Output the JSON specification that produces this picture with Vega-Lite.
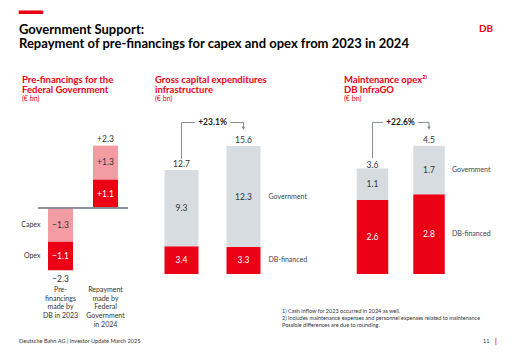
{
  "$schema": "https://vega.github.io/schema/vega-lite/v6.json",
  "background": "white",
  "padding": {"left": 19, "top": 3, "right": 5, "bottom": 2},
  "config": {"view": {"stroke": null}, "font": "Lato", "text": {"font": "Lato"}},
  "title": {
    "text": "━━",
    "font": "DejaVu Sans",
    "fontSize": 20,
    "fontWeight": "normal",
    "color": "#EC0016",
    "anchor": "start",
    "frame": "bounds",
    "offset": -27,
    "subtitle": ["Government Support:", "Repayment of pre-financings for capex and opex from 2023 in 2024"],
    "subtitleFont": "Lato",
    "subtitleFontSize": 13,
    "subtitleFontWeight": "bold",
    "subtitleColor": "#000000",
    "subtitleLineHeight": 14,
    "subtitlePadding": 1
  },
  "bounds": "flush",
  "columns": 4,
  "spacing": {"row": 28, "column": 22},
  "resolve": {"scale": {"color": "independent"}},
  "concat": [
    {
      "width": 90,
      "height": 157,
      "title": {"text": ["Pre-financings for the", "Federal Government"], "subtitle": "(€ bn)", "anchor": "start", "frame": "group", "dx": -16, "offset": 15, "fontSize": 9.5, "fontWeight": "bold", "color": "#EC0016", "lineHeight": 9.5, "subtitleFontSize": 7, "subtitleColor": "#EC0016", "subtitlePadding": 1},
      "data": {"values": [
        {"category": "Pre-\nfinancings\nmade by\nDB in 2023", "type": "Capex", "value": -1.3},
        {"category": "Pre-\nfinancings\nmade by\nDB in 2023", "type": "Opex", "value": -1.1},
        {"category": "Repayment\nmade by\nFederal\nGovernment\nin 2024", "type": "Opex", "value": 1.1},
        {"category": "Repayment\nmade by\nFederal\nGovernment\nin 2024", "type": "Capex", "value": 1.3}
      ]},
      "transform": [
        {"stack": "value", "groupby": ["category"], "sort": [{"field": "value", "order": "ascending"}], "as": ["v0", "v1"]},
        {"calculate": "(datum.v0 + datum.v1) / 2", "as": "mid"}
      ],
      "layer": [
        {
          "mark": {"type": "bar"},
          "encoding": {
            "x": {"field": "category", "type": "nominal", "scale": {"paddingInner": 0.444, "paddingOuter": 0.222}, "axis": null},
            "y": {"field": "v0", "type": "quantitative", "scale": {"domain": [-2.54, 3.5], "nice": false, "zero": false}, "axis": null},
            "y2": {"field": "v1"},
            "color": {"field": "type", "type": "nominal", "scale": {"domain": ["Opex", "Capex"], "range": ["#EC0016", "#F39CA2"]}, "legend": null}
          }
        },
        {
          "mark": {"type": "rule", "color": "#878C96", "strokeWidth": 1},
          "encoding": {"y": {"datum": 0, "type": "quantitative", "axis": null}}
        },
        {
          "mark": {"type": "text", "fontSize": 8.5},
          "encoding": {
            "x": {"field": "category", "type": "nominal", "axis": null},
            "y": {"field": "mid", "type": "quantitative", "axis": null},
            "text": {"field": "value", "format": "+.1f"},
            "color": {"condition": {"test": "datum.type === 'Opex'", "value": "white"}, "value": "#333333"}
          }
        },
        {
          "transform": [{"filter": "datum.value < 0"}],
          "mark": {"type": "text", "fontSize": 7, "align": "right", "dx": -20, "color": "#333333"},
          "encoding": {
            "x": {"field": "category", "type": "nominal", "axis": null},
            "y": {"field": "mid", "type": "quantitative", "axis": null},
            "text": {"field": "type"}
          }
        },
        {
          "data": {"values": [
            {"category": "Pre-\nfinancings\nmade by\nDB in 2023", "total": -2.3},
            {"category": "Repayment\nmade by\nFederal\nGovernment\nin 2024", "total": 2.3}
          ]},
          "layer": [
            {
              "transform": [{"filter": "datum.total < 0"}],
              "mark": {"type": "text", "fontSize": 8.5, "baseline": "middle", "dy": 11, "color": "#333333"},
              "encoding": {
                "x": {"field": "category", "type": "nominal", "axis": null},
                "y": {"field": "total", "type": "quantitative", "axis": null},
                "text": {"field": "total", "format": "+.1f"}
              }
            },
            {
              "transform": [{"filter": "datum.total > 0"}],
              "mark": {"type": "text", "fontSize": 8.5, "baseline": "middle", "dy": -9, "color": "#333333"},
              "encoding": {
                "x": {"field": "category", "type": "nominal", "axis": null},
                "y": {"field": "total", "type": "quantitative", "axis": null},
                "text": {"field": "total", "format": "+.1f"}
              }
            },
            {
              "mark": {"type": "text", "fontSize": 7, "baseline": "top", "dy": 12, "lineBreak": "\n", "lineHeight": 8.7, "color": "#333333"},
              "encoding": {
                "x": {"field": "category", "type": "nominal", "axis": null},
                "y": {"datum": -2.54, "type": "quantitative", "axis": null},
                "text": {"field": "category"}
              }
            }
          ]
        }
      ]
    },
    {
      "width": 170,
      "height": 157,
      "title": {"text": ["Gross capital expenditures", "infrastructure"], "subtitle": "(€ bn)", "anchor": "start", "frame": "group", "dx": 5, "offset": 15, "fontSize": 9.5, "fontWeight": "bold", "color": "#EC0016", "lineHeight": 9.5, "subtitleFontSize": 7, "subtitleColor": "#EC0016", "subtitlePadding": 1},
      "data": {"values": [
        {"year": "2023¹⁾", "type": "DB-financed", "value": 3.4},
        {"year": "2023¹⁾", "type": "Government", "value": 9.3},
        {"year": "2024", "type": "DB-financed", "value": 3.3},
        {"year": "2024", "type": "Government", "value": 12.3}
      ]},
      "transform": [
        {"stack": "value", "groupby": ["year"], "sort": [{"field": "type", "order": "ascending"}], "as": ["v0", "v1"]},
        {"calculate": "(datum.v0 + datum.v1) / 2", "as": "mid"}
      ],
      "layer": [
        {
          "mark": {"type": "bar"},
          "encoding": {
            "x": {"field": "year", "type": "nominal", "scale": {"range": [0, 125], "paddingInner": 0.4516, "paddingOuter": 0.234}, "axis": {"title": null, "ticks": false, "domainColor": "#878C96", "domainWidth": 1, "labelAngle": 0, "labelPadding": 4, "labelFontSize": 7, "labelColor": "#333333", "labelFont": "Lato"}},
            "y": {"field": "v0", "type": "quantitative", "scale": {"domain": [0, 19.15], "nice": false}, "axis": null},
            "y2": {"field": "v1"},
            "color": {"field": "type", "type": "nominal", "scale": {"domain": ["DB-financed", "Government"], "range": ["#EC0016", "#D7DCE1"]}, "legend": null}
          }
        },
        {
          "mark": {"type": "text", "fontSize": 8.5},
          "encoding": {
            "x": {"field": "year", "type": "nominal", "axis": null},
            "y": {"field": "mid", "type": "quantitative", "axis": null},
            "text": {"field": "value", "format": ".1f"},
            "color": {"condition": {"test": "datum.type === 'DB-financed'", "value": "white"}, "value": "#333333"}
          }
        },
        {
          "transform": [{"filter": "datum.year === '2024'"}],
          "mark": {"type": "text", "fontSize": 7, "align": "left", "dx": 25, "color": "#3C414B"},
          "encoding": {
            "x": {"field": "year", "type": "nominal", "axis": null},
            "y": {"field": "mid", "type": "quantitative", "axis": null},
            "text": {"field": "type"}
          }
        },
        {
          "data": {"values": [{"year": "2023¹⁾", "total": 12.7}, {"year": "2024", "total": 15.6}]},
          "mark": {"type": "text", "fontSize": 8.5, "dy": -3, "baseline": "alphabetic", "color": "#333333"},
          "encoding": {
            "x": {"field": "year", "type": "nominal", "axis": null},
            "y": {"field": "total", "type": "quantitative", "axis": null},
            "text": {"field": "total", "format": ".1f"}
          }
        },
        {
          "data": {"values": [{"change": "+23.1%"}]},
          "layer": [
            {"mark": {"type": "rule", "color": "#878C96", "strokeWidth": 1}, "encoding": {"x": {"datum": "2023¹⁾", "type": "nominal", "axis": null}, "y": {"datum": 14.06, "type": "quantitative", "axis": null}, "y2": {"datum": 18.48}}},
            {"mark": {"type": "rule", "color": "#878C96", "strokeWidth": 1}, "encoding": {"x": {"datum": "2023¹⁾", "type": "nominal", "axis": null}, "x2": {"datum": "2024"}, "y": {"datum": 18.48, "type": "quantitative", "axis": null}}},
            {"mark": {"type": "rule", "color": "#878C96", "strokeWidth": 1}, "encoding": {"x": {"datum": "2024", "type": "nominal", "axis": null}, "y": {"datum": 18.48, "type": "quantitative", "axis": null}, "y2": {"datum": 17.8}}},
            {"mark": {"type": "point", "shape": "triangle-down", "filled": true, "size": 14, "color": "#878C96", "opacity": 1}, "encoding": {"x": {"datum": "2024", "type": "nominal", "axis": null}, "y": {"datum": 17.75, "type": "quantitative", "axis": null}}},
            {"mark": {"type": "text", "fontSize": 8.5, "fontWeight": "bold", "dx": 31, "baseline": "middle", "color": "white", "stroke": "white", "strokeWidth": 7}, "encoding": {"x": {"datum": "2023¹⁾", "type": "nominal", "axis": null}, "y": {"datum": 18.48, "type": "quantitative", "axis": null}, "text": {"field": "change"}}},
            {"mark": {"type": "text", "fontSize": 8.5, "fontWeight": "bold", "dx": 31, "baseline": "middle", "color": "#1E1E1E"}, "encoding": {"x": {"datum": "2023¹⁾", "type": "nominal", "axis": null}, "y": {"datum": 18.48, "type": "quantitative", "axis": null}, "text": {"field": "change"}}}
          ]
        }
      ]
    },
    {
      "width": 113,
      "height": 157,
      "title": {"text": ["Maintenance opex²⁾", "DB InfraGO"], "subtitle": "(€ bn)", "anchor": "start", "frame": "group", "dx": 2, "offset": 15, "fontSize": 9.5, "fontWeight": "bold", "color": "#EC0016", "lineHeight": 9.5, "subtitleFontSize": 7, "subtitleColor": "#EC0016", "subtitlePadding": 1},
      "data": {"values": [
        {"year": "2023¹⁾", "type": "DB-financed", "value": 2.6},
        {"year": "2023¹⁾", "type": "Government", "value": 1.1},
        {"year": "2024", "type": "DB-financed", "value": 2.8},
        {"year": "2024", "type": "Government", "value": 1.7}
      ]},
      "transform": [
        {"stack": "value", "groupby": ["year"], "sort": [{"field": "type", "order": "ascending"}], "as": ["v0", "v1"]},
        {"calculate": "(datum.v0 + datum.v1) / 2", "as": "mid"}
      ],
      "layer": [
        {
          "mark": {"type": "bar"},
          "encoding": {
            "x": {"field": "year", "type": "nominal", "scale": {"paddingInner": 0.4425, "paddingOuter": 0.221, "align": 0.59}, "axis": {"title": null, "ticks": false, "domainColor": "#878C96", "domainWidth": 1, "labelAngle": 0, "labelPadding": 4, "labelFontSize": 7, "labelColor": "#333333", "labelFont": "Lato"}},
            "y": {"field": "v0", "type": "quantitative", "scale": {"domain": [0, 5.51], "nice": false}, "axis": null},
            "y2": {"field": "v1"},
            "color": {"field": "type", "type": "nominal", "scale": {"domain": ["DB-financed", "Government"], "range": ["#EC0016", "#D7DCE1"]}, "legend": null}
          }
        },
        {
          "mark": {"type": "text", "fontSize": 8.5},
          "encoding": {
            "x": {"field": "year", "type": "nominal", "axis": null},
            "y": {"field": "mid", "type": "quantitative", "axis": null},
            "text": {"field": "value", "format": ".1f"},
            "color": {"condition": {"test": "datum.type === 'DB-financed'", "value": "white"}, "value": "#333333"}
          }
        },
        {
          "transform": [{"filter": "datum.year === '2024'"}],
          "mark": {"type": "text", "fontSize": 7, "align": "left", "dx": 23, "color": "#3C414B"},
          "encoding": {
            "x": {"field": "year", "type": "nominal", "axis": null},
            "y": {"field": "mid", "type": "quantitative", "axis": null},
            "text": {"field": "type"}
          }
        },
        {
          "data": {"values": [{"year": "2023¹⁾", "total": 3.6}, {"year": "2024", "total": 4.5}]},
          "mark": {"type": "text", "fontSize": 8.5, "dy": -3, "baseline": "alphabetic", "color": "#333333"},
          "encoding": {
            "x": {"field": "year", "type": "nominal", "axis": null},
            "y": {"field": "total", "type": "quantitative", "axis": null},
            "text": {"field": "total", "format": ".1f"}
          }
        },
        {
          "data": {"values": [{"change": "+22.6%"}]},
          "layer": [
            {"mark": {"type": "rule", "color": "#878C96", "strokeWidth": 1}, "encoding": {"x": {"datum": "2023¹⁾", "type": "nominal", "axis": null}, "y": {"datum": 4.07, "type": "quantitative", "axis": null}, "y2": {"datum": 5.32}}},
            {"mark": {"type": "rule", "color": "#878C96", "strokeWidth": 1}, "encoding": {"x": {"datum": "2023¹⁾", "type": "nominal", "axis": null}, "x2": {"datum": "2024"}, "y": {"datum": 5.32, "type": "quantitative", "axis": null}}},
            {"mark": {"type": "rule", "color": "#878C96", "strokeWidth": 1}, "encoding": {"x": {"datum": "2024", "type": "nominal", "axis": null}, "y": {"datum": 5.32, "type": "quantitative", "axis": null}, "y2": {"datum": 5.14}}},
            {"mark": {"type": "point", "shape": "triangle-down", "filled": true, "size": 14, "color": "#878C96", "opacity": 1}, "encoding": {"x": {"datum": "2024", "type": "nominal", "axis": null}, "y": {"datum": 5.12, "type": "quantitative", "axis": null}}},
            {"mark": {"type": "text", "fontSize": 8.5, "fontWeight": "bold", "dx": 28, "baseline": "middle", "color": "white", "stroke": "white", "strokeWidth": 7}, "encoding": {"x": {"datum": "2023¹⁾", "type": "nominal", "axis": null}, "y": {"datum": 5.32, "type": "quantitative", "axis": null}, "text": {"field": "change"}}},
            {"mark": {"type": "text", "fontSize": 8.5, "fontWeight": "bold", "dx": 28, "baseline": "middle", "color": "#1E1E1E"}, "encoding": {"x": {"datum": "2023¹⁾", "type": "nominal", "axis": null}, "y": {"datum": 5.32, "type": "quantitative", "axis": null}, "text": {"field": "change"}}}
          ]
        }
      ]
    },
    {"width": 18, "height": 157, "data": {"values": []}, "mark": {"type": "point", "opacity": 0},
     "title": {"text": "DB", "anchor": "middle", "frame": "group", "offset": 83, "fontSize": 10, "fontWeight": "bold", "color": "#EC0016"}},
    {"width": 90, "height": 1, "data": {"values": []}, "mark": {"type": "point", "opacity": 0},
     "title": {"text": "Deutsche Bahn AG | Investor Update March 2025", "orient": "bottom", "anchor": "start", "frame": "group", "dx": -19, "offset": 36, "fontSize": 5.6, "fontWeight": "normal", "color": "#333333"}},
    {"width": 170, "height": 1, "data": {"values": []}, "mark": {"type": "point", "opacity": 0},
     "title": {"text": ["1)     Cash inflow for 2023 occurred in 2024 as well.", "2)     Includes maintenance expenses and personnel expenses related to maintenance", "Possible differences are due to rounding."], "orient": "bottom", "anchor": "start", "frame": "group", "dx": 132, "offset": 5.5, "fontSize": 5.5, "lineHeight": 7, "fontWeight": "normal", "color": "#333333"}},
    {"width": 113, "height": 1, "data": {"values": []}, "mark": {"type": "point", "opacity": 0},
     "title": {"text": "11", "orient": "bottom", "anchor": "start", "frame": "group", "dx": 141, "offset": 36, "fontSize": 5.6, "fontWeight": "normal", "color": "#333333"}},
    {"width": 18, "height": 1, "data": {"values": []}, "mark": {"type": "point", "opacity": 0},
     "title": {"text": "|", "orient": "bottom", "anchor": "start", "frame": "group", "dx": 18, "offset": 35, "fontSize": 7, "fontWeight": "bold", "color": "#EC0016"}}
  ]
}
